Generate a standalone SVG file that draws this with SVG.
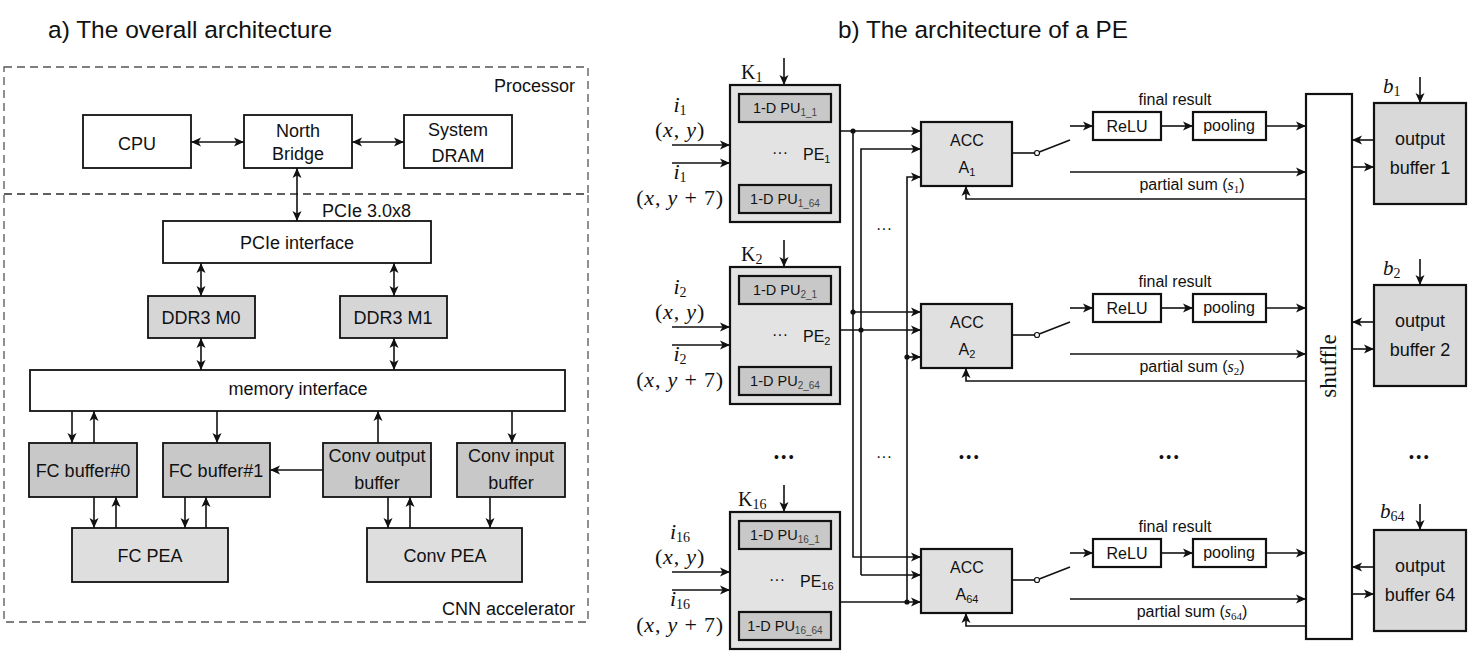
<svg xmlns="http://www.w3.org/2000/svg" width="1468" height="656" viewBox="0 0 1468 656">
<defs>
<style>
.t{font-family:"Liberation Sans",Arial,sans-serif;fill:#111}
.s18{font-size:18px}
.s16{font-size:16px}
.s14{font-size:14.5px}
.m{font-family:"Liberation Serif","Times New Roman",serif;fill:#111}
.it{font-style:italic}
.box{stroke:#111;stroke-width:1.8}
.bx2{stroke:#111;stroke-width:2.2}
.dash{fill:none;stroke:#555;stroke-width:1.3;stroke-dasharray:8 5}
.ln{fill:none;stroke:#111;stroke-width:1.6}
.a1{marker-end:url(#ah)}
.a2{marker-start:url(#ah);marker-end:url(#ah)}
.dot{fill:#111}
.mid{text-anchor:middle}
</style>
<marker id="ah" viewBox="0 0 10 10" refX="10" refY="5" markerWidth="10" markerHeight="10" markerUnits="userSpaceOnUse" orient="auto-start-reverse">
<path d="M0,0.5 L10,5 L0,9.5 L2.5,5 z" fill="#111"/>
</marker>
</defs>
<rect width="1468" height="656" fill="#fff"/>

<text class="t" x="48" y="38" font-size="24.5">a) The overall architecture</text>
<text class="t" x="838" y="38" font-size="24.3">b) The architecture of a PE</text>

<!-- ===== Left panel ===== -->
<g id="processor">
<rect class="dash" x="4" y="67" width="584" height="127"/>
<text class="t s18" x="575" y="92" text-anchor="end">Processor</text>
</g>
<g id="cnn-accelerator">
<rect class="dash" x="4" y="194" width="584" height="428"/>
<text class="t s18" x="575" y="615" text-anchor="end">CNN accelerator</text>
</g>
<g id="cpu"><rect class="box" x="83" y="115" width="108" height="53" fill="#fff"/><text class="t s18 mid" x="137" y="150">CPU</text></g>
<g id="north-bridge"><rect class="box" x="244" y="115" width="108" height="53" fill="#fff"/><text class="t s18 mid" x="298" y="137">North</text><text class="t s18 mid" x="298" y="160">Bridge</text></g>
<g id="system-dram"><rect class="box" x="404" y="115" width="108" height="53" fill="#fff"/><text class="t s18 mid" x="458" y="136">System</text><text class="t s18 mid" x="458" y="162">DRAM</text></g>
<g id="pcie-interface"><rect class="box" x="163" y="221" width="268" height="42" fill="#fff"/><text class="t s18 mid" x="297" y="249">PCIe interface</text></g>
<g id="ddr3-m0"><rect class="box" x="148" y="296" width="107" height="42" fill="#d6d6d6"/><text class="t s18 mid" x="201" y="324">DDR3 M0</text></g>
<g id="ddr3-m1"><rect class="box" x="340" y="296" width="107" height="42" fill="#d6d6d6"/><text class="t s18 mid" x="393" y="324">DDR3 M1</text></g>
<g id="memory-interface"><rect class="box" x="30" y="370" width="535" height="41" fill="#fff"/><text class="t s18 mid" x="298" y="395">memory interface</text></g>
<g id="fc-buffer-0"><rect class="box" x="29" y="443" width="108" height="54" fill="#c8c8c8"/><text class="t s18 mid" x="83" y="477">FC buffer#0</text></g>
<g id="fc-buffer-1"><rect class="box" x="163" y="443" width="107" height="54" fill="#c8c8c8"/><text class="t s18 mid" x="216" y="477">FC buffer#1</text></g>
<g id="conv-output-buffer"><rect class="box" x="323" y="443" width="108" height="54" fill="#c8c8c8"/><text class="t s18 mid" x="377" y="462">Conv output</text><text class="t s18 mid" x="377" y="489">buffer</text></g>
<g id="conv-input-buffer"><rect class="box" x="457" y="443" width="108" height="54" fill="#c8c8c8"/><text class="t s18 mid" x="511" y="462">Conv input</text><text class="t s18 mid" x="511" y="489">buffer</text></g>
<g id="fc-pea"><rect class="box" x="72" y="528" width="156" height="54" fill="#dedede"/><text class="t s18 mid" x="150" y="562">FC PEA</text></g>
<g id="conv-pea"><rect class="box" x="367" y="528" width="155" height="54" fill="#dedede"/><text class="t s18 mid" x="445" y="562">Conv PEA</text></g>

<g id="connectors-left">
<line class="ln a2" x1="191" y1="142" x2="244" y2="142"/>
<line class="ln a2" x1="352" y1="142" x2="404" y2="142"/>
<line class="ln a2" x1="297" y1="168" x2="297" y2="221"/>
<text class="t s18" x="322" y="217">PCIe 3.0x8</text>
<line class="ln a2" x1="201" y1="263" x2="201" y2="296"/>
<line class="ln a2" x1="394" y1="263" x2="394" y2="296"/>
<line class="ln a2" x1="201" y1="338" x2="201" y2="370"/>
<line class="ln a2" x1="394" y1="338" x2="394" y2="370"/>
<line class="ln a1" x1="72" y1="411" x2="72" y2="443"/>
<line class="ln a1" x1="94" y1="443" x2="94" y2="411"/>
<line class="ln a1" x1="217" y1="411" x2="217" y2="443"/>
<line class="ln a1" x1="378" y1="443" x2="378" y2="411"/>
<line class="ln a1" x1="512" y1="411" x2="512" y2="443"/>
<line class="ln a1" x1="323" y1="470" x2="270" y2="470"/>
<line class="ln a1" x1="94" y1="497" x2="94" y2="528"/>
<line class="ln a1" x1="116" y1="528" x2="116" y2="497"/>
<line class="ln a1" x1="185" y1="497" x2="185" y2="528"/>
<line class="ln a1" x1="206" y1="528" x2="206" y2="497"/>
<line class="ln a1" x1="388" y1="497" x2="388" y2="528"/>
<line class="ln a1" x1="410" y1="528" x2="410" y2="497"/>
<line class="ln a1" x1="490" y1="497" x2="490" y2="528"/>
</g>

<!-- ===== Right panel ===== -->
<g id="shuffle">
<rect class="bx2" x="1306" y="94" width="46" height="545" fill="#fff"/>
<text class="m mid" x="1329" y="373" font-size="23" transform="rotate(-90 1329 366)">shuffle</text>
</g>

<!-- Row 1 -->
<g id="pe1">
<text class="m" x="741" y="79" font-size="20">K<tspan font-size="14" dy="3">1</tspan></text>
<rect class="bx2" x="730" y="85" width="110" height="137" fill="#e3e3e3"/>
<rect class="bx2" x="739" y="94" width="92" height="28" fill="#c8c8c8"/>
<text class="t s14 mid" x="785" y="113">1-D PU<tspan font-size="10" dy="3" fill="#444">1_1</tspan></text>
<rect class="bx2" x="739" y="185" width="92" height="28" fill="#c8c8c8"/>
<text class="t s14 mid" x="785" y="204">1-D PU<tspan font-size="10" dy="3" fill="#444">1_64</tspan></text>
<text class="t s16 mid" x="780" y="158">···</text>
<text class="t s16" x="803" y="160">PE<tspan font-size="11" dy="3">1</tspan></text>
</g>
<g id="pe1-inputs">
<text class="m mid" x="680" y="112" font-size="22"><tspan class="it">i</tspan><tspan font-size="14" dy="3">1</tspan></text>
<text class="m mid" x="680" y="137" font-size="22" letter-spacing="0.8">(<tspan class="it">x</tspan>, <tspan class="it">y</tspan>)</text>
<text class="m mid" x="680" y="179" font-size="22"><tspan class="it">i</tspan><tspan font-size="14" dy="3">1</tspan></text>
<text class="m mid" x="680" y="205" font-size="22" letter-spacing="0.8">(<tspan class="it">x</tspan>, <tspan class="it">y</tspan> + 7)</text>
</g>
<g id="acc1">
<rect class="bx2" x="921" y="122" width="91" height="64" fill="#e0e0e0"/>
<text class="t s16 mid" x="967" y="146">ACC</text>
<text class="t s16 mid" x="967" y="173">A<tspan font-size="11" dy="3">1</tspan></text>
</g>
<g id="relu1"><rect class="bx2" x="1093" y="112" width="68" height="28" fill="#fff"/><text class="t s16 mid" x="1127" y="132">ReLU</text></g>
<g id="pooling1"><rect class="bx2" x="1193" y="112" width="73" height="28" fill="#fff"/><text class="t s16 mid" x="1229" y="131">pooling</text></g>
<g id="output-buffer-1">
<rect class="bx2" x="1374" y="103" width="92" height="101" fill="#d9d9d9"/>
<text class="t s18 mid" x="1420" y="145">output</text>
<text class="t s18 mid" x="1420" y="174">buffer 1</text>
<text class="m" x="1383" y="93" font-size="21"><tspan class="it">b</tspan><tspan font-size="14" dy="3">1</tspan></text>
</g>

<!-- Row 2 -->
<g id="pe2">
<text class="m" x="741" y="261" font-size="20">K<tspan font-size="14" dy="3">2</tspan></text>
<rect class="bx2" x="730" y="267" width="110" height="137" fill="#e3e3e3"/>
<rect class="bx2" x="739" y="276" width="92" height="28" fill="#c8c8c8"/>
<text class="t s14 mid" x="785" y="295">1-D PU<tspan font-size="10" dy="3" fill="#444">2_1</tspan></text>
<rect class="bx2" x="739" y="367" width="92" height="28" fill="#c8c8c8"/>
<text class="t s14 mid" x="785" y="386">1-D PU<tspan font-size="10" dy="3" fill="#444">2_64</tspan></text>
<text class="t s16 mid" x="780" y="340">···</text>
<text class="t s16" x="803" y="342">PE<tspan font-size="11" dy="3">2</tspan></text>
</g>
<g id="pe2-inputs">
<text class="m mid" x="680" y="294" font-size="22"><tspan class="it">i</tspan><tspan font-size="14" dy="3">2</tspan></text>
<text class="m mid" x="680" y="319" font-size="22" letter-spacing="0.8">(<tspan class="it">x</tspan>, <tspan class="it">y</tspan>)</text>
<text class="m mid" x="680" y="361" font-size="22"><tspan class="it">i</tspan><tspan font-size="14" dy="3">2</tspan></text>
<text class="m mid" x="680" y="387" font-size="22" letter-spacing="0.8">(<tspan class="it">x</tspan>, <tspan class="it">y</tspan> + 7)</text>
</g>
<g id="acc2">
<rect class="bx2" x="921" y="304" width="91" height="64" fill="#e0e0e0"/>
<text class="t s16 mid" x="967" y="328">ACC</text>
<text class="t s16 mid" x="967" y="355">A<tspan font-size="11" dy="3">2</tspan></text>
</g>
<g id="relu2"><rect class="bx2" x="1093" y="294" width="68" height="28" fill="#fff"/><text class="t s16 mid" x="1127" y="314">ReLU</text></g>
<g id="pooling2"><rect class="bx2" x="1193" y="294" width="73" height="28" fill="#fff"/><text class="t s16 mid" x="1229" y="313">pooling</text></g>
<g id="output-buffer-2">
<rect class="bx2" x="1374" y="285" width="92" height="101" fill="#d9d9d9"/>
<text class="t s18 mid" x="1420" y="327">output</text>
<text class="t s18 mid" x="1420" y="356">buffer 2</text>
<text class="m" x="1383" y="275" font-size="21"><tspan class="it">b</tspan><tspan font-size="14" dy="3">2</tspan></text>
</g>

<!-- Row 16 / 64 -->
<g id="pe16">
<text class="m" x="738" y="506" font-size="20">K<tspan font-size="14" dy="3">16</tspan></text>
<rect class="bx2" x="730" y="512" width="110" height="137" fill="#e3e3e3"/>
<rect class="bx2" x="739" y="521" width="92" height="28" fill="#c8c8c8"/>
<text class="t s14 mid" x="785" y="540">1-D PU<tspan font-size="10" dy="3" fill="#444">16_1</tspan></text>
<rect class="bx2" x="739" y="612" width="92" height="28" fill="#c8c8c8"/>
<text class="t s14 mid" x="785" y="631">1-D PU<tspan font-size="10" dy="3" fill="#444">16_64</tspan></text>
<text class="t s16 mid" x="777" y="585">···</text>
<text class="t s16" x="800" y="587">PE<tspan font-size="11" dy="3">16</tspan></text>
</g>
<g id="pe16-inputs">
<text class="m mid" x="680" y="539" font-size="22"><tspan class="it">i</tspan><tspan font-size="14" dy="3">16</tspan></text>
<text class="m mid" x="680" y="564" font-size="22" letter-spacing="0.8">(<tspan class="it">x</tspan>, <tspan class="it">y</tspan>)</text>
<text class="m mid" x="680" y="606" font-size="22"><tspan class="it">i</tspan><tspan font-size="14" dy="3">16</tspan></text>
<text class="m mid" x="680" y="632" font-size="22" letter-spacing="0.8">(<tspan class="it">x</tspan>, <tspan class="it">y</tspan> + 7)</text>
</g>
<g id="acc64">
<rect class="bx2" x="921" y="549" width="91" height="64" fill="#e0e0e0"/>
<text class="t s16 mid" x="967" y="573">ACC</text>
<text class="t s16 mid" x="967" y="600">A<tspan font-size="11" dy="3">64</tspan></text>
</g>
<g id="relu64"><rect class="bx2" x="1093" y="539" width="68" height="28" fill="#fff"/><text class="t s16 mid" x="1127" y="559">ReLU</text></g>
<g id="pooling64"><rect class="bx2" x="1193" y="539" width="73" height="28" fill="#fff"/><text class="t s16 mid" x="1229" y="558">pooling</text></g>
<g id="output-buffer-64">
<rect class="bx2" x="1374" y="530" width="92" height="101" fill="#d9d9d9"/>
<text class="t s18 mid" x="1420" y="572">output</text>
<text class="t s18 mid" x="1420" y="601">buffer 64</text>
<text class="m" x="1380" y="518" font-size="21"><tspan class="it">b</tspan><tspan font-size="14" dy="3">64</tspan></text>
</g>

<g id="ellipses">
<text class="t mid" x="785" y="462" font-size="14" letter-spacing="2.5">•••</text>
<text class="t mid" x="970" y="462" font-size="14" letter-spacing="2.5">•••</text>
<text class="t mid" x="1170" y="462" font-size="14" letter-spacing="2.5">•••</text>
<text class="t mid" x="1420" y="462" font-size="14" letter-spacing="2.5">•••</text>
<text class="t s16 mid" x="884" y="234">···</text>
<text class="t s16 mid" x="884" y="462">···</text>
</g>

<g id="connectors-right">
<g id="row1-links">
<line class="ln a1" x1="784" y1="58" x2="784" y2="85"/>
<line class="ln a1" x1="672" y1="145" x2="730" y2="145"/>
<line class="ln a1" x1="672" y1="163" x2="730" y2="163"/>
<line class="ln" x1="1012" y1="153" x2="1034.5" y2="153"/>
<circle cx="1037" cy="153" r="2.5" fill="#fff" stroke="#111" stroke-width="1.2"/>
<line class="ln" x1="1039.3" y1="152" x2="1070" y2="140"/>
<line class="ln a1" x1="1070" y1="126" x2="1093" y2="126"/>
<line class="ln a1" x1="1161" y1="126" x2="1193" y2="126"/>
<line class="ln a1" x1="1266" y1="126" x2="1306" y2="126"/>
<text class="t s16 mid" x="1175" y="105">final result</text>
<line class="ln a1" x1="1070" y1="172" x2="1306" y2="172"/>
<text class="t s16 mid" x="1192" y="190">partial sum (<tspan class="m it">s</tspan><tspan class="m" font-size="11" dy="3">1</tspan><tspan dy="-3">)</tspan></text>
<polyline class="ln a1" points="1306,199 966,199 966,186"/>
<line class="ln a1" x1="1420" y1="77" x2="1420" y2="103"/>
<line class="ln a1" x1="1374" y1="140" x2="1352" y2="140"/>
<line class="ln a1" x1="1352" y1="167" x2="1374" y2="167"/>
</g>
<g id="row2-links" transform="translate(0,182)">
<line class="ln a1" x1="784" y1="58" x2="784" y2="85"/>
<line class="ln a1" x1="672" y1="145" x2="730" y2="145"/>
<line class="ln a1" x1="672" y1="163" x2="730" y2="163"/>
<line class="ln" x1="1012" y1="153" x2="1034.5" y2="153"/>
<circle cx="1037" cy="153" r="2.5" fill="#fff" stroke="#111" stroke-width="1.2"/>
<line class="ln" x1="1039.3" y1="152" x2="1070" y2="140"/>
<line class="ln a1" x1="1070" y1="126" x2="1093" y2="126"/>
<line class="ln a1" x1="1161" y1="126" x2="1193" y2="126"/>
<line class="ln a1" x1="1266" y1="126" x2="1306" y2="126"/>
<text class="t s16 mid" x="1175" y="105">final result</text>
<line class="ln a1" x1="1070" y1="172" x2="1306" y2="172"/>
<text class="t s16 mid" x="1192" y="190">partial sum (<tspan class="m it">s</tspan><tspan class="m" font-size="11" dy="3">2</tspan><tspan dy="-3">)</tspan></text>
<polyline class="ln a1" points="1306,199 966,199 966,186"/>
<line class="ln a1" x1="1420" y1="77" x2="1420" y2="103"/>
<line class="ln a1" x1="1374" y1="140" x2="1352" y2="140"/>
<line class="ln a1" x1="1352" y1="167" x2="1374" y2="167"/>
</g>
<g id="row64-links" transform="translate(0,427)">
<line class="ln a1" x1="784" y1="58" x2="784" y2="85"/>
<line class="ln a1" x1="672" y1="145" x2="730" y2="145"/>
<line class="ln a1" x1="672" y1="163" x2="730" y2="163"/>
<line class="ln" x1="1012" y1="153" x2="1034.5" y2="153"/>
<circle cx="1037" cy="153" r="2.5" fill="#fff" stroke="#111" stroke-width="1.2"/>
<line class="ln" x1="1039.3" y1="152" x2="1070" y2="140"/>
<line class="ln a1" x1="1070" y1="126" x2="1093" y2="126"/>
<line class="ln a1" x1="1161" y1="126" x2="1193" y2="126"/>
<line class="ln a1" x1="1266" y1="126" x2="1306" y2="126"/>
<text class="t s16 mid" x="1175" y="105">final result</text>
<line class="ln a1" x1="1070" y1="172" x2="1306" y2="172"/>
<text class="t s16 mid" x="1192" y="190">partial sum (<tspan class="m it">s</tspan><tspan class="m" font-size="11" dy="3">64</tspan><tspan dy="-3">)</tspan></text>
<polyline class="ln a1" points="1306,199 966,199 966,186"/>
<line class="ln a1" x1="1420" y1="77" x2="1420" y2="103"/>
<line class="ln a1" x1="1374" y1="140" x2="1352" y2="140"/>
<line class="ln a1" x1="1352" y1="167" x2="1374" y2="167"/>
</g>
<g id="bus">
<line class="ln a1" x1="840" y1="131" x2="921" y2="131"/>
<polyline class="ln a1" points="861,575 861,149 921,149"/>
<polyline class="ln a1" points="907,602 907,177 921,177"/>
<polyline class="ln a1" points="853,131 853,557 921,557"/>
<line class="ln a1" x1="853" y1="312" x2="921" y2="312"/>
<line class="ln a1" x1="840" y1="330" x2="921" y2="330"/>
<line class="ln a1" x1="907" y1="357" x2="921" y2="357"/>
<line class="ln a1" x1="861" y1="575" x2="921" y2="575"/>
<line class="ln a1" x1="840" y1="602" x2="921" y2="602"/>
<circle class="dot" cx="853" cy="131" r="2.6"/>
<circle class="dot" cx="853" cy="312" r="2.6"/>
<circle class="dot" cx="861" cy="330" r="2.6"/>
<circle class="dot" cx="907" cy="357" r="2.6"/>
<circle class="dot" cx="907" cy="602" r="2.6"/>
</g>
</g>
</svg>
